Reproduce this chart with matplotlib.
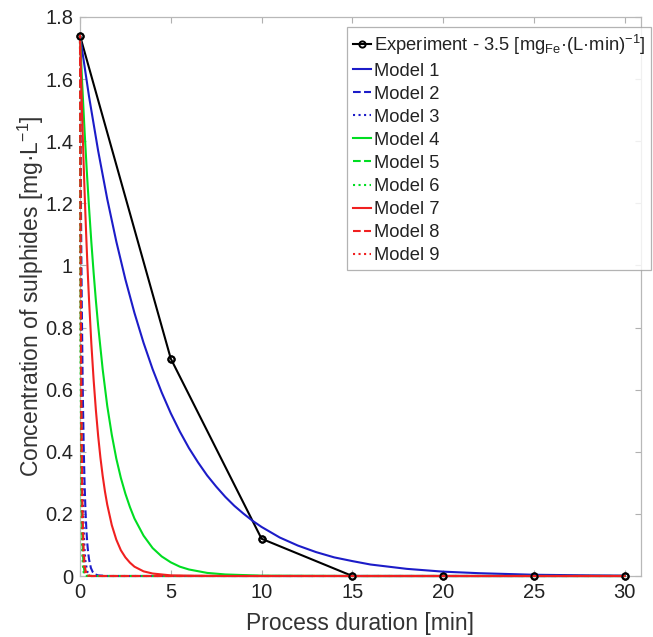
import matplotlib.pyplot as plt

plt.rcParams['font.family'] = ['Liberation Sans', 'DejaVu Sans']
plt.rcParams['mathtext.fontset'] = 'custom'
plt.rcParams['mathtext.rm'] = 'Liberation Sans'
plt.rcParams['mathtext.it'] = 'Liberation Sans:italic'

# experiment
t_exp = [0, 5, 10, 15, 20, 25, 30]
c_exp = [1.74, 0.70, 0.12, 0.0, 0.0, 0.0, 0.0]

# model 1 (slow)
t_m1 = [0, 0.5, 1, 1.5, 2, 2.5, 3, 3.5, 4, 4.5, 5, 5.5, 6, 6.5, 7, 7.5, 8, 8.5, 9, 9.5,
        10, 11, 12, 13, 14, 15, 16, 18, 20, 22, 25, 28, 30]
c_m1 = [1.74, 1.543, 1.369, 1.214, 1.077, 0.955, 0.847, 0.751, 0.666, 0.591, 0.524,
        0.465, 0.412, 0.366, 0.324, 0.288, 0.255, 0.226, 0.201, 0.178,
        0.158, 0.124, 0.098, 0.077, 0.060, 0.048, 0.037, 0.023, 0.014, 0.009,
        0.004, 0.002, 0.001]

# model 4
t_m4 = [0, 0.125, 0.25, 0.375, 0.5, 0.625, 0.75, 0.875, 1, 1.25, 1.5, 1.75, 2, 2.25,
        2.5, 2.75, 3, 3.5, 4, 4.5, 5, 5.5, 6, 7, 8, 10, 15, 20, 30]
c_m4 = [1.74, 1.580, 1.435, 1.303, 1.184, 1.075, 0.977, 0.887, 0.806, 0.665, 0.548,
        0.455, 0.378, 0.316, 0.265, 0.222, 0.185, 0.130, 0.090, 0.063, 0.044,
        0.030, 0.021, 0.010, 0.005, 0.001, 0.0, 0.0, 0.0]

# model 7
t_m7 = [0, 0.05, 0.1, 0.15, 0.2, 0.25, 0.3, 0.35, 0.4, 0.45, 0.5, 0.625, 0.75, 0.875,
        1, 1.125, 1.25, 1.375, 1.5, 1.75, 2, 2.25, 2.5, 2.75, 3, 3.5, 4, 5, 6, 8,
        10, 15, 20, 30]
c_m7 = [1.74, 1.626, 1.520, 1.421, 1.328, 1.242, 1.161, 1.085, 1.014, 0.948, 0.886,
        0.748, 0.632, 0.534, 0.451, 0.381, 0.322, 0.272, 0.230, 0.164, 0.117,
        0.083, 0.060, 0.043, 0.030, 0.015, 0.008, 0.002, 0.001, 0.0,
        0.0, 0.0, 0.0, 0.0]

# model 2
t_m2 = [0, 0.025, 0.05, 0.075, 0.1, 0.15, 0.2, 0.25, 0.3, 0.35, 0.4, 0.45, 0.5, 0.6,
        0.7, 0.8, 1, 1.5, 2, 5, 10, 20, 30]
c_m2 = [1.74, 1.461, 1.226, 1.029, 0.864, 0.609, 0.429, 0.302, 0.213, 0.150, 0.106,
        0.075, 0.053, 0.026, 0.013, 0.006, 0.002, 0.0, 0.0, 0.0, 0.0, 0.0, 0.0]

# very fast models (3, 5, 6, 8, 9)
t_fast = [0, 0.02, 0.04, 0.06, 0.08, 0.1, 0.13, 0.16, 0.2, 0.25, 0.3, 0.4, 0.6, 30]
c_m3 = [1.74, 1.369, 1.077, 0.847, 0.666, 0.524, 0.366, 0.255, 0.158, 0.087, 0.048, 0.014, 0.0, 0.0]
c_m5 = [1.74, 1.166, 0.782, 0.524, 0.351, 0.235, 0.129, 0.071, 0.032, 0.012, 0.004, 0.001, 0.0, 0.0]
c_m6 = [1.74, 1.055, 0.640, 0.388, 0.235, 0.143, 0.068, 0.032, 0.012, 0.003, 0.001, 0.0, 0.0, 0.0]
c_m8 = [1.74, 1.289, 0.955, 0.707, 0.524, 0.388, 0.248, 0.158, 0.087, 0.041, 0.019, 0.004, 0.0, 0.0]
c_m9 = [1.74, 1.214, 0.847, 0.591, 0.412, 0.288, 0.168, 0.098, 0.048, 0.019, 0.008, 0.001, 0.0, 0.0]

BLUE = '#1c1cc8'
GREEN = '#00dd22'
RED = '#f02020'

fig = plt.figure(figsize=(6.53, 6.37), dpi=100)
ax = fig.add_axes([80 / 653, 61 / 637, 561 / 653, 559 / 637])

kw = dict(lw=1.5, clip_on=False, zorder=3)
ax.plot(t_exp, c_exp, '-o', color='black', ms=4.5, mfc='none', mew=1.4,
        label='Experiment - 3.5 [mg$_{\\mathrm{Fe}}$·(L·min)$^{\\mathrm{-1}}$]',
        lw=1.5, clip_on=False, zorder=2.8)
ax.plot(t_m1, c_m1, '-', color=BLUE, label='Model 1', **kw)
ax.plot(t_m2, c_m2, '--', color=BLUE, label='Model 2', **kw)
ax.plot(t_fast, c_m3, ':', color=BLUE, label='Model 3', **kw)
ax.plot(t_m4, c_m4, '-', color=GREEN, label='Model 4', **kw)
ax.plot(t_fast, c_m5, '--', color=GREEN, label='Model 5', **kw)
ax.plot(t_fast, c_m6, ':', color=GREEN, label='Model 6', **kw)
ax.plot(t_m7, c_m7, '-', color=RED, label='Model 7', **kw)
ax.plot(t_fast, c_m8, '--', color=RED, label='Model 8', **kw)
ax.plot(t_fast, c_m9, ':', color=RED, label='Model 9', **kw)
# experiment markers stay visible above the model lines
ax.plot(t_exp, c_exp, 'o', color='black', ms=4.5, mfc='none', mew=1.4,
        clip_on=False, zorder=4)

ax.set_xlim(0, 30.9)
ax.set_ylim(0, 1.8)
ax.set_xticks([0, 5, 10, 15, 20, 25, 30])
ax.set_yticks([0, 0.2, 0.4, 0.6, 0.8, 1.0, 1.2, 1.4, 1.6, 1.8])
ax.set_yticklabels(['0', '0.2', '0.4', '0.6', '0.8', '1', '1.2', '1.4', '1.6', '1.8'])
ax.tick_params(direction='in', length=4, width=0.8, color='#b0b0b0',
               top=True, right=True, labelsize=14.5, labelcolor='#222222', pad=5)
for sp in ax.spines.values():
    sp.set_color('#b8b8b8')
    sp.set_linewidth(0.9)

ax.set_xlabel('Process duration [min]', fontsize=16.5, color='#333333', labelpad=7)
ax.set_ylabel('Concentration of sulphides [mg·L$^{\\mathrm{-1}}$]', fontsize=16.5,
              color='#333333', labelpad=-1)

leg = ax.legend(loc='upper right', bbox_to_anchor=(1.018, 0.982), fontsize=13.2,
                frameon=True, fancybox=False, handlelength=1.0, handletextpad=0.15,
                borderpad=0.3, labelspacing=0.33, borderaxespad=0)
leg.get_frame().set_edgecolor('#a0a0a0')
leg.get_frame().set_linewidth(0.9)
leg.set_zorder(5)
for txt in leg.get_texts():
    txt.set_color('#222222')

plt.savefig('out.png', dpi=100)
